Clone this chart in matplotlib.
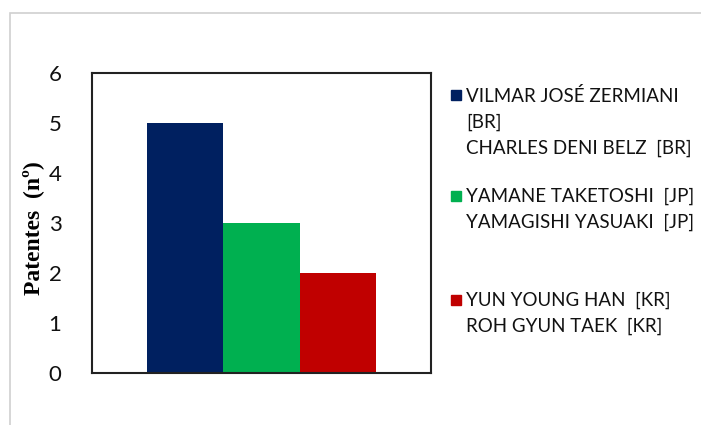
import matplotlib.pyplot as plt
from matplotlib.patches import Rectangle

# data
groups = ['BR', 'JP', 'KR']
patentes = [5, 3, 2]
colors = ['#002060', '#00b050', '#c00000']
labels = ['VILMAR JOSÉ ZERMIANI\n[BR]\nCHARLES DENI BELZ  [BR]',
          'YAMANE TAKETOSHI  [JP]\nYAMAGISHI YASUAKI  [JP]',
          'YUN YOUNG HAN  [KR]\nROH GYUN TAEK  [KR]']
yticks = [0, 1, 2, 3, 4, 5, 6]

W, H = 701, 425
fig = plt.figure(figsize=(W / 100, H / 100), dpi=100)
ax = fig.add_axes([92 / W, 1 - 373 / H, 339 / W, 300 / H])

pos = [-1, 0, 1]
ax.bar(pos, patentes, width=1.0, color=colors)
ax.set_xlim(-2.23, 2.23)
ax.set_ylim(0, 6)
ax.set_yticks(yticks)
ax.set_xticks([])
ax.tick_params(axis='y', length=0, pad=22, labelsize=16)
for t in ax.get_yticklabels():
    t.set_family(['Lato', 'DejaVu Sans'])
    t.set_color('#111111')
for s in ax.spines.values():
    s.set_linewidth(1.5)
    s.set_color('#222222')

fig.text(33 / W, 1 - 228 / H, 'Patentes  (nº)', rotation=90, ha='center', va='center',
         family=['Liberation Serif', 'DejaVu Serif'], fontweight='bold', fontsize=17)

# legend drawn by hand so the swatch sits on the first line
tops = [95, 196, 300]
for lab, col, y in zip(labels, colors, tops):
    fig.add_artist(Rectangle((451 / W, 1 - (y + 5) / H), 10 / W, 10 / H,
                             transform=fig.transFigure, color=col))
    fig.text(466 / W, 1 - (y - 8) / H, lab, ha='left', va='top',
             family=['Lato', 'DejaVu Sans'], fontsize=13.5,
             color='#111111', linespacing=1.6, transform=fig.transFigure)

# outer frame
fig.add_artist(Rectangle((9.5 / W, -0.1), 1.2, 1 - 12.5 / H + 0.1, transform=fig.transFigure,
                         fill=False, edgecolor='#d0d0d0', linewidth=1.2))

fig.savefig('out.png', dpi=100)
